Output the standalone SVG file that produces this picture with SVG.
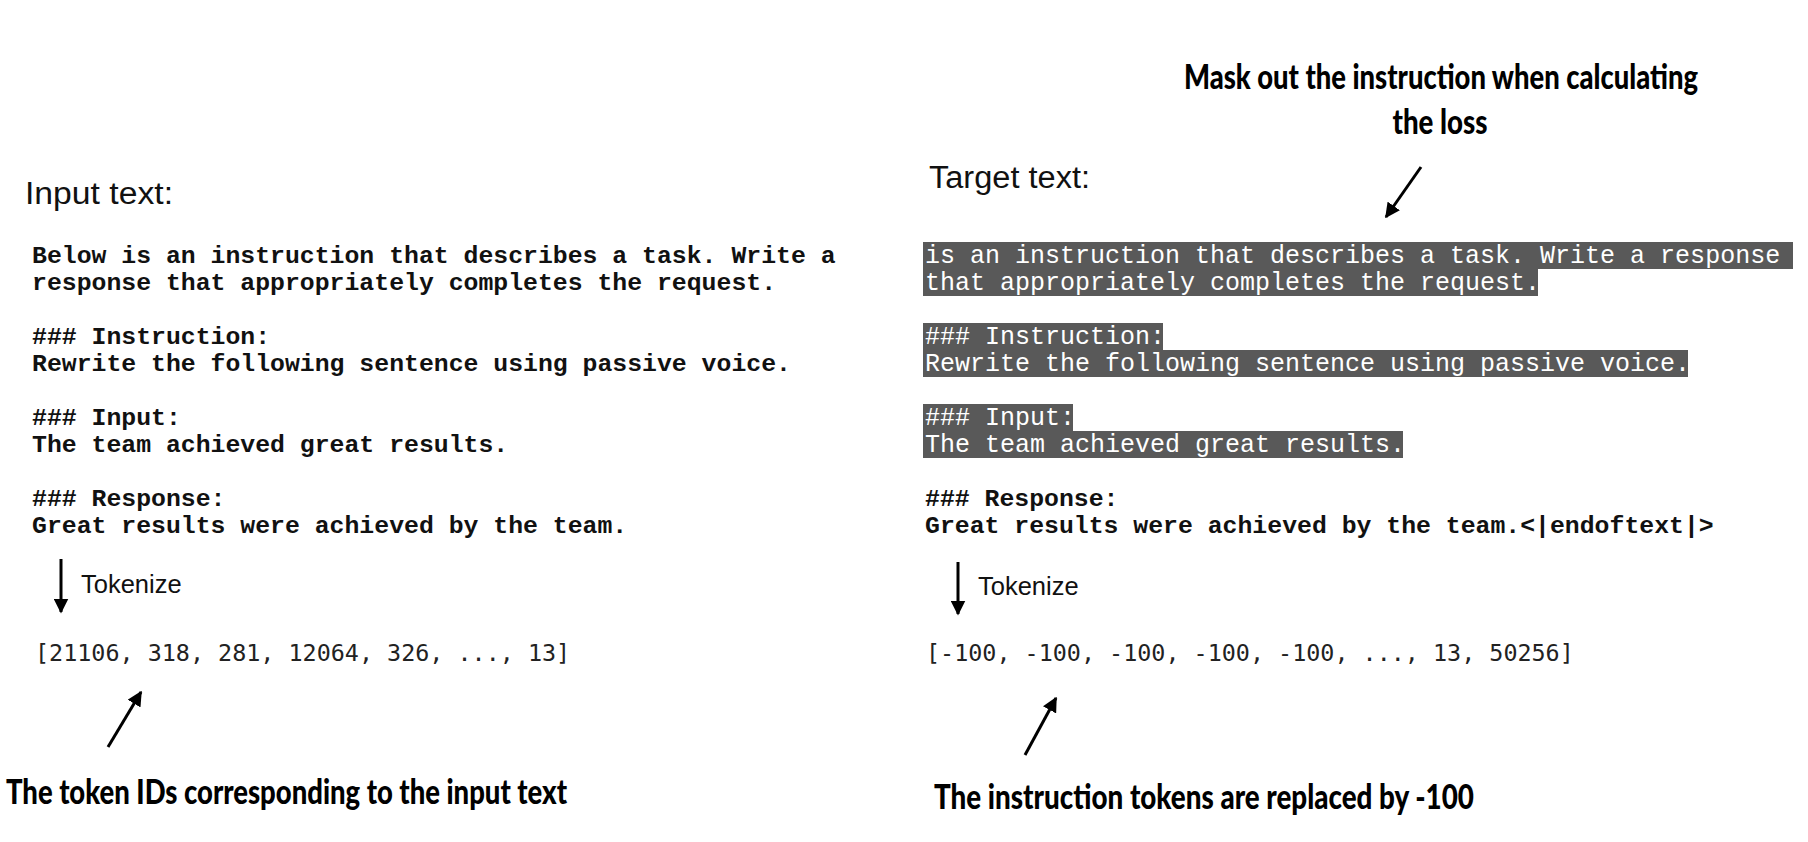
<svg xmlns="http://www.w3.org/2000/svg" width="1808" height="842" viewBox="0 0 1808 842">
<style>
.hdr{font-family:"Liberation Sans",Arial,sans-serif;font-size:31px;fill:#111}
.mb{font-family:"Liberation Mono","Courier New",monospace;font-size:24.8px;font-weight:bold;fill:#111}
.mw{font-family:"Liberation Mono","Courier New",monospace;font-size:25px;fill:#fff}
.tok{font-family:"Liberation Sans",Arial,sans-serif;font-size:25.5px;fill:#111}
.ids{font-family:"DejaVu Sans Mono",monospace;font-size:23.4px;fill:#222}
.lbl{font-family:Lato,"DejaVu Sans",sans-serif;font-size:34px;font-weight:900;fill:#000}
.hl{fill:#595959}
.arr{stroke:#000;stroke-width:3;fill:none}
</style>
<defs>
<marker id="ah" viewBox="0 0 10 10" refX="9" refY="5" markerWidth="5" markerHeight="5" orient="auto" markerUnits="strokeWidth">
<path d="M0,0 L10,5 L0,10 z" fill="#000"/>
</marker>
</defs>
<rect width="1808" height="842" fill="#fff"/>
<g id="input-panel">
<text class="hdr" x="25" y="204" textLength="148" lengthAdjust="spacingAndGlyphs">Input text:</text>
<text class="mb" x="32" y="263">Below is an instruction that describes a task. Write a</text>
<text class="mb" x="32" y="290">response that appropriately completes the request.</text>
<text class="mb" x="32" y="344">### Instruction:</text>
<text class="mb" x="32" y="371">Rewrite the following sentence using passive voice.</text>
<text class="mb" x="32" y="425">### Input:</text>
<text class="mb" x="32" y="452">The team achieved great results.</text>
<text class="mb" x="32" y="506">### Response:</text>
<text class="mb" x="32" y="533">Great results were achieved by the team.</text>
</g>
<g id="target-panel">
<text class="hdr" x="929" y="188" textLength="161" lengthAdjust="spacingAndGlyphs">Target text:</text>
<rect class="hl" x="923" y="242" width="870" height="27"/>
<rect class="hl" x="923" y="269" width="615" height="27"/>
<rect class="hl" x="923" y="323" width="240" height="27"/>
<rect class="hl" x="923" y="350" width="765" height="27"/>
<rect class="hl" x="923" y="404" width="150" height="27"/>
<rect class="hl" x="923" y="431" width="480" height="27"/>
<text class="mw" x="925" y="263">is an instruction that describes a task. Write a response</text>
<text class="mw" x="925" y="290">that appropriately completes the request.</text>
<text class="mw" x="925" y="344">### Instruction:</text>
<text class="mw" x="925" y="371">Rewrite the following sentence using passive voice.</text>
<text class="mw" x="925" y="425">### Input:</text>
<text class="mw" x="925" y="452">The team achieved great results.</text>
<text class="mb" x="925" y="506">### Response:</text>
<text class="mb" x="925" y="533">Great results were achieved by the team.&lt;|endoftext|&gt;</text>
</g>
<g id="tokenize-left">
<text class="tok" x="81" y="593">Tokenize</text>
</g>
<g id="tokenize-right">
<text class="tok" x="978" y="595">Tokenize</text>
</g>
<g id="ids-left">
<text class="ids" x="35" y="661">[21106, 318, 281, 12064, 326, ..., 13]</text>
</g>
<g id="ids-right">
<text class="ids" x="926" y="661">[-100, -100, -100, -100, -100, ..., 13, 50256]</text>
</g>
<g id="label-mask">
<text class="lbl" x="1441" y="89" text-anchor="middle" textLength="514" lengthAdjust="spacingAndGlyphs">Mask out the instruction when calculating</text>
<text class="lbl" x="1440" y="134" text-anchor="middle" textLength="95" lengthAdjust="spacingAndGlyphs">the loss</text>
</g>
<g id="label-ids">
<text class="lbl" x="6" y="804" textLength="561" lengthAdjust="spacingAndGlyphs">The token IDs corresponding to the input text</text>
</g>
<g id="label-replaced">
<text class="lbl" x="934" y="809" textLength="540" lengthAdjust="spacingAndGlyphs">The instruction tokens are replaced by -100</text>
</g>
<g id="connectors">
<line class="arr" x1="61" y1="559" x2="61" y2="612" marker-end="url(#ah)"/>
<line class="arr" x1="958" y1="562" x2="958" y2="614" marker-end="url(#ah)"/>
<line class="arr" x1="1421" y1="167" x2="1386" y2="217" marker-end="url(#ah)"/>
<line class="arr" x1="108" y1="747" x2="141" y2="692" marker-end="url(#ah)"/>
<line class="arr" x1="1025" y1="755" x2="1056" y2="698" marker-end="url(#ah)"/>
</g>
</svg>
